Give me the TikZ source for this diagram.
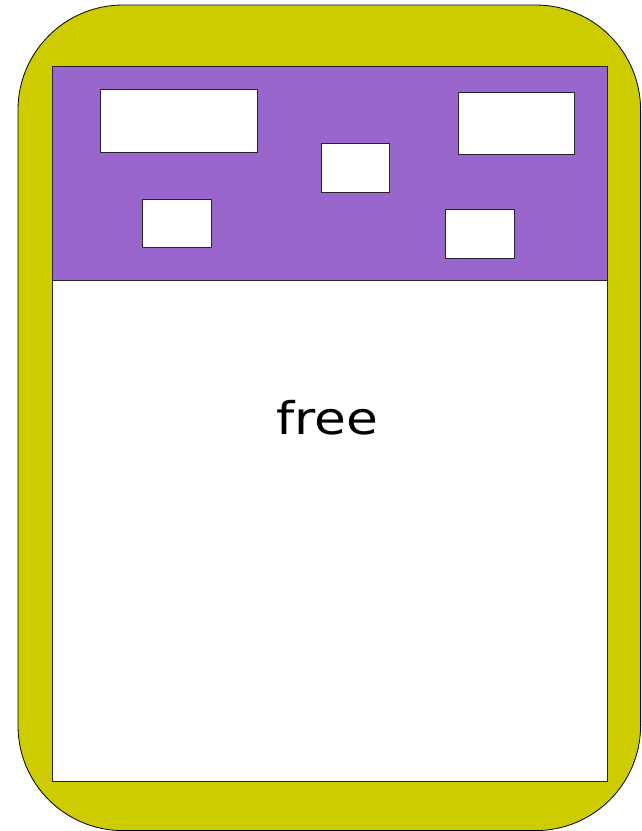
\documentclass[tikz,border=0pt]{standalone}
\usepackage{fontspec}
\setmainfont{DejaVu Sans}
\usetikzlibrary{positioning}
\definecolor{framegold}{HTML}{CCCC00}
\definecolor{usedviolet}{HTML}{9966CC}
\definecolor{edgeink}{HTML}{2A2330}

\tikzset{
  blockbox/.style={draw=edgeink, fill=white, line width=0.9pt, inner sep=0pt},
}

\begin{document}
\begin{tikzpicture}[x=1pt, y=-1pt]
  \useasboundingbox (0,0) rectangle (641,831);
  % outer frame and the two regions
  \draw[fill=framegold, line width=0.8pt, rounded corners=105pt]
    (18,5) rectangle (640.6,830.6);
  \draw[fill=white, draw=edgeink, line width=0.9pt] (52,66) rectangle (607,781);
  \draw[fill=usedviolet, draw=edgeink, line width=0.9pt] (52,66) rectangle (607,280);
  % allocated blocks
  \foreach \name/\cx/\cy/\w/\h in {blka/178.5/120.5/157/63, blkb/176.5/223/69/48,
      blkc/355/167.5/68/49, blkd/516/123/116/62, blke/479.5/233.5/69/49}{%
    \node[blockbox, minimum width=\w, minimum height=\h] (\name) at (\cx,\cy) {};}
  \node[anchor=base, inner sep=0pt, font=\fontsize{45}{54}\selectfont]
    (freelab) at (327.5,434) {\scalebox{1.15}[1]{free}};
\end{tikzpicture}
\end{document}
